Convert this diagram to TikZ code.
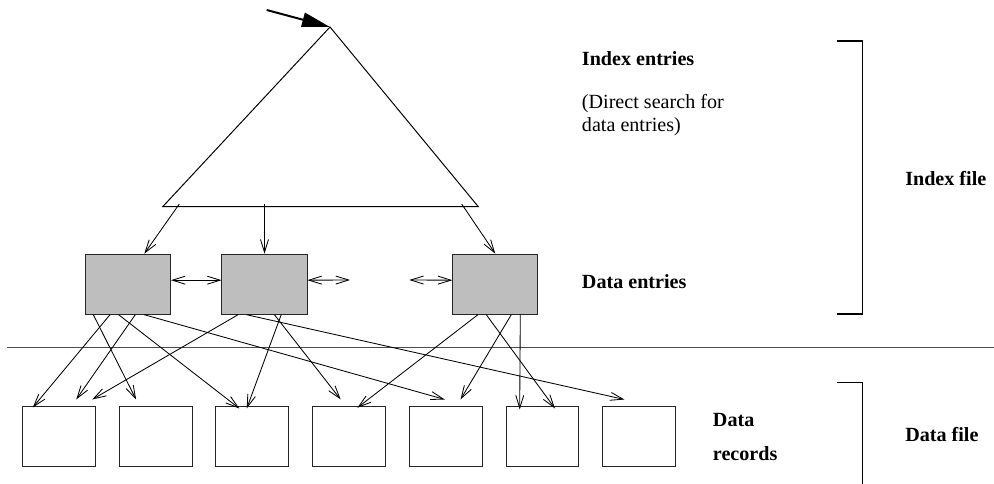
\documentclass[tikz,border=0pt]{standalone}
\usepackage{fontspec}
\setmainfont{Liberation Serif}
\usepackage{tikz}
\usetikzlibrary{arrows.meta, positioning, calc}
\definecolor{cGrey}{RGB}{190,190,190}
\tikzset{
	entrybox/.style={rectangle, minimum width=2.125cm, minimum height=1.5cm, draw=black!85, line width=0.7pt, fill=cGrey},
	recbox/.style  ={rectangle, minimum width=1.82cm, minimum height=1.5cm, draw=black!85, line width=0.7pt, fill=white},
	ptr/.style     ={-{Straight Barb[length=3.2mm, width=2mm]}, line width=0.6pt},
	dptr/.style    ={{Straight Barb[length=3.2mm, width=2mm]}-{Straight Barb[length=3.2mm, width=2mm]}, line width=0.6pt},
	lbl/.style     ={anchor=base west, inner sep=0pt, align=left, font=\fontsize{14.3}{16.7}\selectfont},
}
\begin{document}
\begin{tikzpicture}[x=0.025cm, y=-0.025cm]
	\useasboundingbox (0,0) rectangle (994,484);
	% index triangle
	\coordinate (apex) at (330,27);
	\coordinate (bl) at (162.7,206.7);
	\coordinate (br) at (478.3,206.7);
	\coordinate (entry) at (266.7,10);
	\draw[line width=0.7pt] (apex) -- (bl) -- (br) -- cycle;
	\draw[line width=1.4pt, -{Triangle[length=7mm, width=3.6mm]}] (entry) -- (apex);
	% data entries
	\node[entrybox] (e1) at (128,284.2) {};
	\node[entrybox] (e2) at (264.5,284.2) {};
	\node[entrybox] (e3) at (495.3,284.2) {};
	\coordinate (b1) at (179.3,204);
	\coordinate (b2) at (264.5,204);
	\coordinate (b3) at (461.7,204);
	\draw[ptr] (b1) -- ($(e1.north west)+(59.3,0)$);
	\draw[ptr] (b2) -- (e2.north);
	\draw[ptr] (b3) -- (e3.north);
	\coordinate (gapL) at (350,280);
	\coordinate (gapR) at (409.3,280);
	\draw[dptr] ($(e1.east)+(0,-4)$) -- ($(e2.west)+(0,-4)$);
	\draw[dptr] ($(e2.east)+(0,-4)$) -- (gapL);
	\draw[dptr] (gapR) -- ($(e3.west)+(0,-4)$);
	% separator
	\coordinate (sepL) at (6.7,347.7);
	\coordinate (sepR) at (994,347.7);
	\draw[line width=1.1pt, black!70] (sepL) -- (sepR);
	% data records
	\foreach \i in {1,...,7}
		\node[recbox] (r\i) at ({58.9+96.7*(\i-1)},436.7) {};
	\foreach \src/\sx/\dst/\dx/\dy in {
		e1/8.3/r2/17.4/-6.7, e1/25/r1/10.8/1.3, e1/33.6/r3/24/2.3, e1/50.3/r1/54.2/-6.7, e1/59.3/r5/36/-6.7,
		e2/16.6/r1/70.2/-6.7, e2/25/r7/22.2/-6.7, e2/59.7/r3/31.3/2.3, e2/52.9/r4/28.6/-6.7,
		e3/25.6/r4/45.2/1.6, e3/34/r6/49.5/2.3, e3/59/r5/51.7/-6.7, e3/68/r6/14.2/3.3}
		\draw[ptr] ($(\src.south west)+(\sx,0)$) -- ($(\dst.north west)+(\dx,\dy)$);
	% labels (multi-line ones sit on their last baseline)
	\node[lbl] (ixent) at (581.7,65.7) {\bfseries Index entries};
	\node[lbl] (search) at (581.7,132) {(Direct search for\\data entries)};
	\node[lbl] (dent) at (581.7,288.3) {\bfseries Data entries};
	\node[lbl] (drec) at (712.7,460.7) {\bfseries Data\\[7.3pt]\bfseries records};
	\node[lbl] (ixfile) at (905,185.7) {\bfseries Index file};
	\node[lbl] (dfile) at (905,441.7) {\bfseries Data file};
	% brackets
	\draw[line width=0.8pt] (837.3,41) -| (862.3,314) -- (837.3,314);
	\draw[line width=0.8pt] (837.3,382.3) -| (862.3,484);
\end{tikzpicture}
\end{document}
